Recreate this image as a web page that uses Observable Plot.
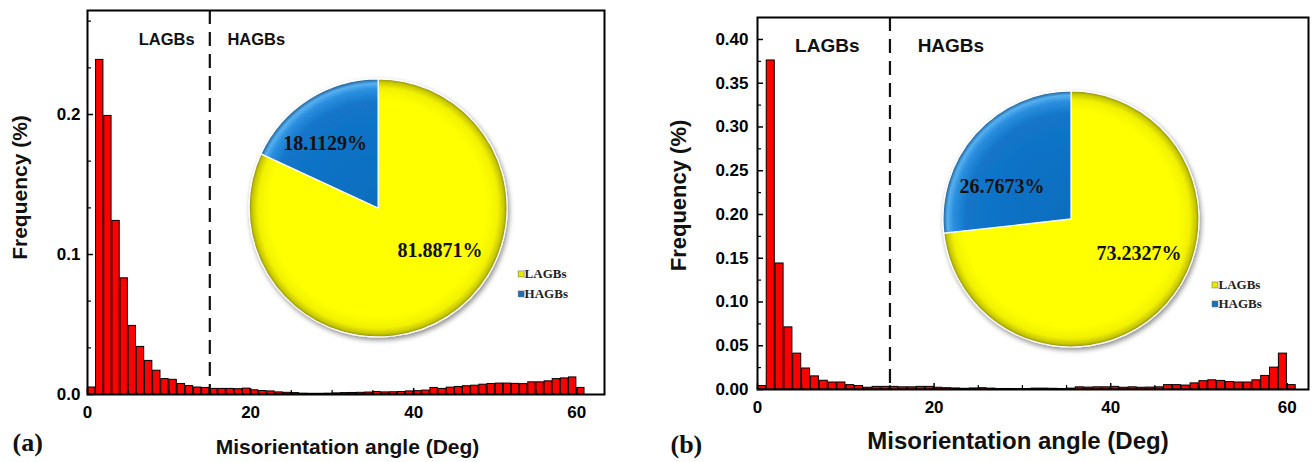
<!DOCTYPE html>
<html><head><meta charset="utf-8">
<script src="https://cdn.jsdelivr.net/npm/d3@7"></script>
<script src="https://cdn.jsdelivr.net/npm/@observablehq/plot@0.6"></script>
<style>
html,body{margin:0;padding:0;background:#fff;}
#wrap{display:flex;width:1314px;height:462px;overflow:hidden;}
#wrap svg{display:block;flex:none;}
</style></head><body><div id="wrap"></div>
<script>
// ---- data ----
const angles = [0,1,2,3,4,5,6,7,8,9,10,11,12,13,14,15,16,17,18,19,20,21,22,23,24,25,26,27,28,29,30,
  31,32,33,34,35,36,37,38,39,40,41,42,43,44,45,46,47,48,49,50,51,52,53,54,55,56,57,58,59,60];
const freqA = [0.005,0.239,0.199,0.124,0.083,0.049,0.034,0.024,0.017,0.011,0.0105,0.0075,0.006,0.005,0.0047,
  0.004,0.004,0.004,0.0038,0.0042,0.003,0.0025,0.0022,0.0015,0.0012,0.001,0.0006,0.0005,0.0005,0.0006,
  0.0008,0.001,0.0011,0.0012,0.0014,0.0018,0.0015,0.0016,0.0018,0.0022,0.0024,0.0028,0.0047,0.004,0.0049,
  0.0054,0.0059,0.0063,0.007,0.0075,0.0078,0.0078,0.0076,0.0074,0.0087,0.0087,0.0094,0.011,0.0115,0.0122,0.0047];
const freqB = [0.004,0.376,0.144,0.071,0.041,0.024,0.015,0.010,0.008,0.008,0.005,0.004,0.002,0.003,0.003,
  0.003,0.0025,0.0025,0.003,0.003,0.002,0.0015,0.0012,0.0008,0.0012,0.0015,0.001,0.0006,0.0006,0.0005,
  0.0006,0.001,0.001,0.0008,0.0006,0.001,0.0025,0.0022,0.0025,0.0025,0.003,0.002,0.0025,0.002,0.0022,
  0.0025,0.005,0.005,0.0045,0.007,0.0095,0.0105,0.0098,0.0085,0.008,0.008,0.0105,0.0155,0.025,0.041,0.005];
const pieNames = ["LAGBs","HAGBs"];
const pieA = [81.8871, 18.1129];
const pieB = [73.2327, 26.7673];
const regionNames = ["LAGBs","HAGBs"];
const boundaryAngle = [15];
const xTicks = [0,20,40,60];
const xMinor = [5,10,15,25,30,35,45,50,55];
const yTicksA = [0,0.1,0.2];
const yMinorA = [0.0333,0.0667,0.1333,0.1667,0.2333,0.2667];
const yTicksB = [0,0.05,0.10,0.15,0.20,0.25,0.30,0.35,0.40];
const yMinorB = [0.025,0.075,0.125,0.175,0.225,0.275,0.325,0.375];
const xTitle = "Misorientation angle (Deg)";
const yTitle = "Frequency (%)";

const SANS = "Liberation Sans, Arial, sans-serif";
const SERIF = "Liberation Serif, Times New Roman, serif";

function pieMark(vals, cx, cy, r, lab, leg, uid) {
  return (index, scales) => {
    const X = scales.x(cx), Y = scales.y(cy);
    const g = d3.create("svg:g").attr("transform", `translate(${X},${Y})`);
    const defs = g.append("defs");
    const grad = (id, stops) => {
      const rg = defs.append("radialGradient").attr("id", id).attr("gradientUnits", "userSpaceOnUse")
        .attr("cx", 0).attr("cy", 0).attr("r", r);
      stops.forEach(([o, c]) => rg.append("stop").attr("offset", o).attr("stop-color", c));
    };
    grad(uid + "y", [["0%", "#ffff00"], ["84%", "#ffff00"], ["93%", "#f2f200"], ["97.5%", "#c9c900"], ["100%", "#8d8d10"]]);
    grad(uid + "b", [["0%", "#0d6dbf"], ["82%", "#1275c8"], ["92%", "#2c8fdf"], ["96.5%", "#55b0f0"], ["100%", "#1d5b93"]]);
    const f = defs.append("filter").attr("id", uid + "sh").attr("x", "-20%").attr("y", "-20%").attr("width", "140%").attr("height", "140%");
    f.append("feDropShadow").attr("dx", 1.5).attr("dy", 2.5).attr("stdDeviation", 2.5)
      .attr("flood-color", "#000").attr("flood-opacity", 0.45);
    const arcs = d3.pie().sort(null)(vals);
    const arc = d3.arc().innerRadius(0).outerRadius(r);
    g.append("g").attr("filter", `url(#${uid}sh)`).selectAll("path").data(arcs).join("path")
      .attr("d", arc).attr("fill", (d, i) => `url(#${uid}${i === 0 ? "y" : "b"})`)
      .attr("stroke", "#ffffff").attr("stroke-width", 1.2).attr("stroke-linejoin", "round");
    const fmt = v => v.toFixed(4) + "%";
    g.append("g").attr("font-family", SERIF).attr("font-weight", "bold").attr("font-size", 20)
      .attr("text-anchor", "middle").attr("fill", "#111")
      .selectAll("text").data(vals).join("text")
      .attr("x", (d, i) => lab[i][0]).attr("y", (d, i) => lab[i][1]).text(fmt);
    const lg = g.append("g").attr("font-family", SERIF).attr("font-weight", "bold").attr("font-size", 13)
      .attr("text-anchor", "start").attr("fill", "#222");
    const cols = ["#e8e800", "#1a6fbd"];
    pieNames.forEach((n, i) => {
      lg.append("rect").attr("x", leg[0]).attr("y", leg[1] + i * leg[2] - 7).attr("width", 6).attr("height", 6)
        .attr("fill", cols[i]).attr("stroke", "#666").attr("stroke-width", 0.5);
      lg.append("text").attr("x", leg[0] + 6.5).attr("y", leg[1] + i * leg[2]).text(n);
    });
    return g.node();
  };
}

function panel(c) {
  const fw = c.width - c.ml - c.mr, fh = 462 - c.mt - c.mb;
  const rows = angles.map((a, i) => ({a, f: c.freq[i]}));
  return Plot.plot({
    width: c.width, height: 462,
    marginLeft: c.ml, marginRight: c.mr, marginTop: c.mt, marginBottom: c.mb,
    x: {domain: [0, c.xmax]},
    y: {domain: [0, c.ymax]},
    style: {fontFamily: SANS, fontWeight: "bold", fontSize: c.tickFont + "px", color: "#000", background: "#fff", overflow: "visible"},
    marks: [
      Plot.rectY(rows, {x1: "a", x2: d => d.a + 1, y1: 0, y2: "f", fill: "#ff0000", stroke: "#000", strokeWidth: 1, insetLeft: 0.4, insetRight: 0.4}),
      Plot.ruleX(boundaryAngle, {x: d => d, stroke: "#111", strokeWidth: 2.2, strokeDasharray: "14,8"}),
      Plot.tickX(xTicks, {x: d => d, insetTop: fh - 6, stroke: "#000", strokeWidth: 1.5}),
      Plot.tickX(xMinor, {x: d => d, insetTop: fh - 4, stroke: "#000", strokeWidth: 1.2}),
      Plot.tickY(c.yTicks, {y: d => d, insetRight: fw - 6, stroke: "#000", strokeWidth: 1.5}),
      Plot.tickY(c.yMinor, {y: d => d, insetRight: fw - 4, stroke: "#000", strokeWidth: 1.2}),
      Plot.axisX(xTicks, {tickSize: 0, tickPadding: 11, tickFormat: d => String(d), label: null}),
      Plot.axisY(c.yTicks, {tickSize: 0, tickPadding: c.yPad, tickFormat: d3.format(c.yFmt), label: null}),
      Plot.frame({stroke: "#000", strokeWidth: 2}),
      Plot.text(regionNames, {x: c.regionX, y: c.regionY, lineAnchor: "bottom", textAnchor: "middle", fontSize: c.regionFont, fontFamily: SANS, fontWeight: "bold", fill: "#111"}),
      Plot.text([xTitle], {frameAnchor: "bottom", dx: c.xtDx, dy: c.xtDy, lineAnchor: "bottom", fontSize: c.titleFontX, fontFamily: SANS, fontWeight: "bold", fill: "#111"}),
      Plot.text([yTitle], {frameAnchor: "left", rotate: -90, dx: c.ytDx, dy: c.ytDy, lineAnchor: "middle", textAnchor: "middle", fontSize: c.titleFontY, fontFamily: SANS, fontWeight: "bold", fill: "#111"}),
      Plot.text([c.tag], {frameAnchor: "bottom-left", dx: c.tagDx, dy: c.tagDy, lineAnchor: "bottom", textAnchor: "start", fontSize: 26, fontFamily: SERIF, fontWeight: "bold", fill: "#111"}),
      pieMark(c.pie, c.pieCx, c.pieCy, c.pieR, c.pieLab, c.pieLeg, c.uid)
    ]
  });
}

const wrap = document.getElementById("wrap");
wrap.append(panel({
  uid: "pa", width: 657, ml: 87, mr: 53, mt: 10, mb: 68, xmax: 63.4, ymax: 0.2743,
  freq: freqA, yTicks: yTicksA, yMinor: yMinorA, yFmt: ".1f", tickFont: 17, yPad: 7,
  regionX: [9.7, 20.7], regionY: 0.2493, regionFont: 16.5,
  xtDx: 1.5, xtDy: 59, titleFontX: 21, ytDx: -67, ytDy: -15, titleFontY: 21,
  tag: "(a)", tagDx: -75, tagDy: 56,
  pie: pieA, pieCx: 35.7, pieCy: 0.1329, pieR: 129,
  pieLab: [[62, 49], [-53, -58]], pieLeg: [140, 70, 20]
}));
wrap.append(panel({
  uid: "pb", width: 657, ml: 100, mr: 6, mt: 17, mb: 73, xmax: 62.4, ymax: 0.4251,
  freq: freqB, yTicks: yTicksB, yMinor: yMinorB, yFmt: ".2f", tickFont: 17, yPad: 9,
  regionX: [7.9, 21.9], regionY: 0.386, regionFont: 19,
  xtDx: -15, xtDy: 59, titleFontX: 24, ytDx: -79, ytDy: -8, titleFontY: 22,
  tag: "(b)", tagDx: -87, tagDy: 63,
  pie: pieB, pieCx: 35.56, pieCy: 0.1943, pieR: 128,
  pieLab: [[68, 41], [-69, -26]], pieLeg: [141, 70, 19]
}));
</script></body></html>
